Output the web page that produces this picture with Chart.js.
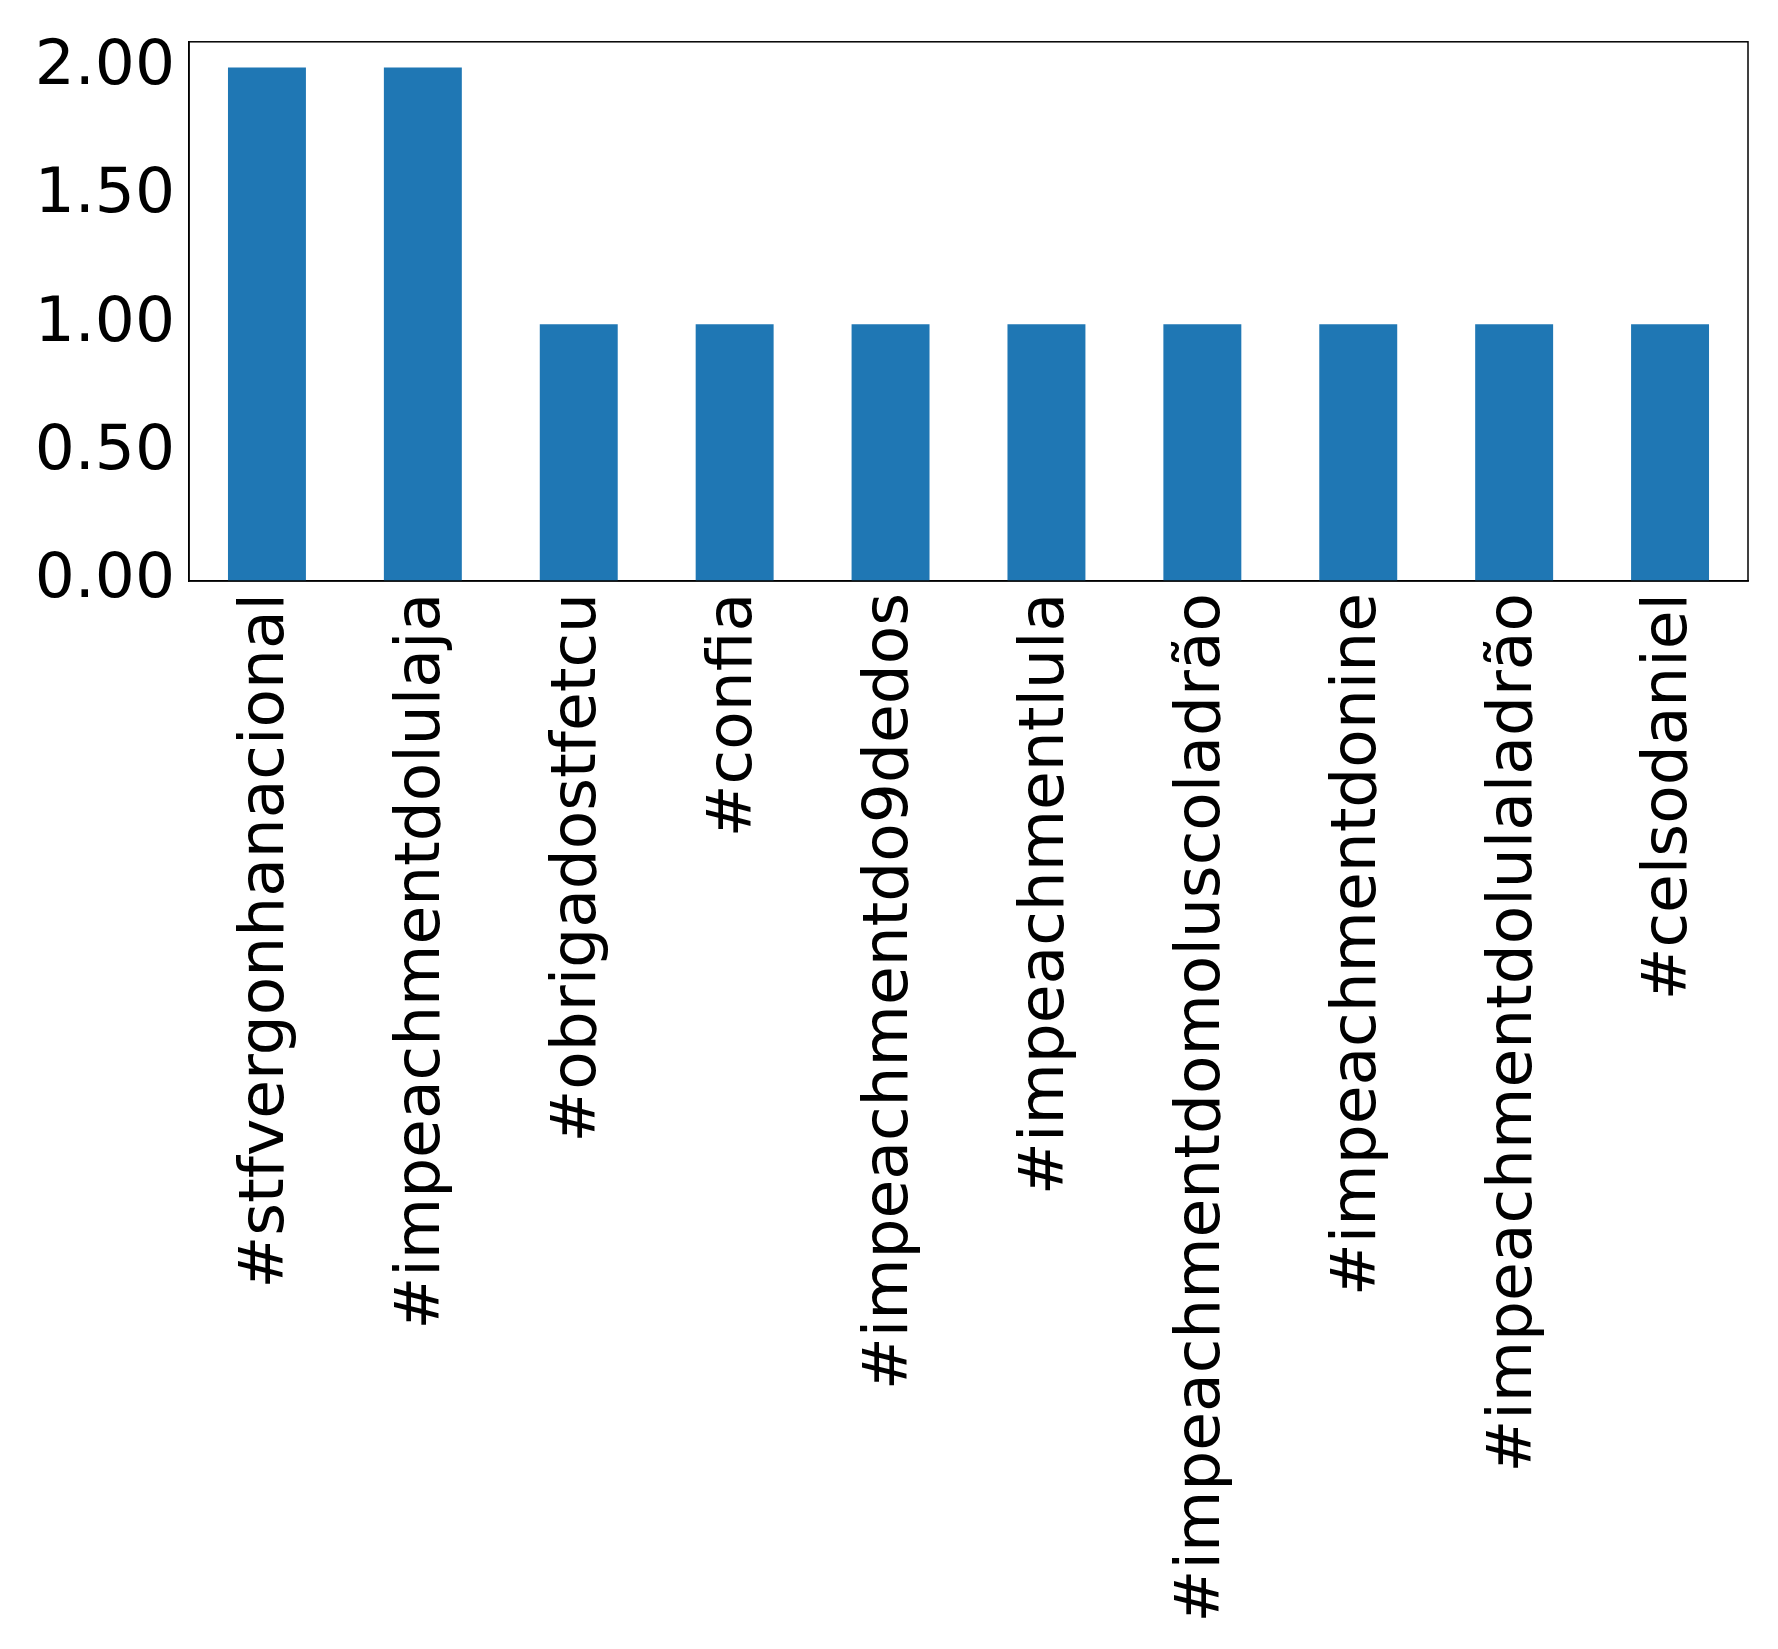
<!DOCTYPE html>
<html><head><meta charset="utf-8"><style>body{margin:0;background:#fff}#w{width:1778px;height:1649px}</style>
<script src="https://cdn.jsdelivr.net/npm/chart.js"></script></head>
<body><div id="w"><canvas id="c"></canvas></div>
<script>
const categories=["#stfvergonhanacional","#impeachmentdolulaja","#obrigadostfetcu","#confia","#impeachmentdo9dedos","#impeachmentlula","#impeachmentdomoluscoladrão","#impeachmentdonine","#impeachmentdolulaladrão","#celsodaniel"];
const counts=[2,2,1,1,1,1,1,1,1,1];
const yTicks=[0,0.25,0.5,0.75,1,1.25,1.5,1.75,2];
new Chart(document.getElementById('c'),{type:'bar',
data:{labels:categories,datasets:[{data:counts,backgroundColor:'#1f77b4',categoryPercentage:1,barPercentage:0.5}]},
options:{responsive:true,maintainAspectRatio:false,animation:false,
layout:{padding:{top:40,right:30,left:0,bottom:0}},
plugins:{legend:{display:false},tooltip:{enabled:false}},
scales:{
x:{grid:{display:false,drawTicks:true,tickLength:10,tickColor:'#000'},border:{color:'#000',width:1.5},
 ticks:{color:'#000',maxRotation:90,minRotation:90,font:{family:'DejaVu Sans',size:63},padding:2},
 afterFit(s){s.height=1068;}},
y:{min:0,max:2.1,grid:{display:false,drawTicks:true,tickLength:10,tickColor:'#000'},border:{color:'#000',width:1.5},
 afterBuildTicks(s){s.ticks=yTicks.map(v=>({value:v}));},
 ticks:{color:'#000',font:{family:'DejaVu Sans',size:63},padding:4,callback:v=>v.toFixed(2)},
 afterFit(s){s.width=189;}}
}},
plugins:[{id:'frame',afterDraw(c){const a=c.chartArea,x=c.ctx;x.save();x.strokeStyle='#000';x.lineWidth=1.5;x.strokeRect(a.left,a.top,a.right-a.left,a.bottom-a.top);x.restore();}}]
});
</script></body></html>
